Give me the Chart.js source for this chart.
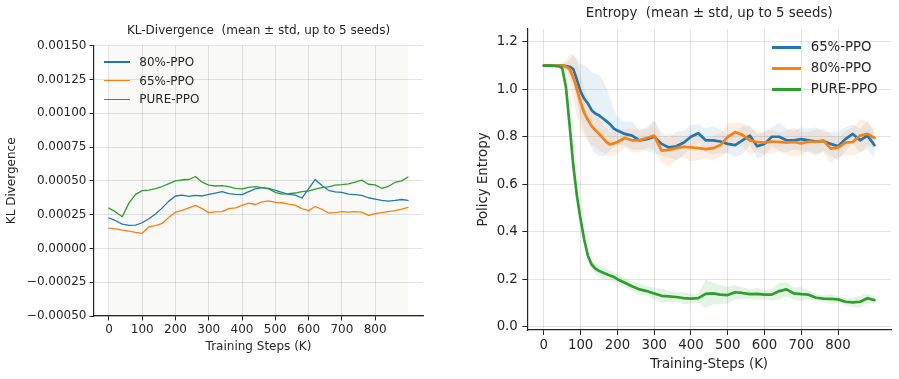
<!DOCTYPE html>
<html><head><meta charset="utf-8">
<script src="https://cdn.jsdelivr.net/npm/chart.js@4.4.1/dist/chart.umd.min.js"></script>
<style>
html,body{margin:0;padding:0;background:#fff;}
body{width:899px;height:379px;overflow:hidden;position:relative;font-family:'DejaVu Sans',sans-serif;color:#262626;}
canvas{position:absolute;top:0;}
.li{position:absolute;white-space:nowrap;}
.li span.ln{position:absolute;left:0;}
.li span.tx{position:absolute;}
</style></head><body>
<canvas id="c1" width="450" height="379" style="left:0px"></canvas>
<canvas id="c2" width="449" height="379" style="left:450px"></canvas>
<div id="legends"></div>
<script>
// ---------- KL divergence (left) ----------
const klSteps = [0,20,40,60,80,100,120,140,160,180,200,220,240,260,280,300,320,340,360,380,400,420,440,460,480,500,520,540,560,580,600,620,640,660,680,700,720,740,760,780,800,820,840,860,880,899];
const kl80 = [0.000225,0.000205,0.000180,0.000170,0.000172,0.000190,0.000220,0.000255,0.000300,0.000350,
  0.000388,0.000395,0.000385,0.000392,0.000388,0.000400,0.000410,0.000420,0.000405,0.000400,
  0.000398,0.000420,0.000440,0.000450,0.000445,0.000430,0.000415,0.000400,0.000395,0.000373,
  0.000440,0.000510,0.000465,0.000430,0.000418,0.000415,0.000402,0.000398,0.000392,0.000375,
  0.000365,0.000355,0.000350,0.000355,0.000362,0.000355];
const kl65 = [0.000150,0.000145,0.000135,0.000128,0.000118,0.000112,0.000160,0.000168,0.000185,0.000230,
  0.000268,0.000282,0.000300,0.000318,0.000295,0.000265,0.000270,0.000272,0.000295,0.000300,
  0.000318,0.000335,0.000325,0.000345,0.000352,0.000340,0.000338,0.000328,0.000320,0.000295,
  0.000280,0.000310,0.000290,0.000262,0.000265,0.000272,0.000268,0.000272,0.000268,0.000245,
  0.000258,0.000265,0.000272,0.000280,0.000290,0.000303];
const klPure = [0.000298,0.000270,0.000235,0.000335,0.000400,0.000428,0.000432,0.000442,0.000458,0.000480,
  0.000500,0.000508,0.000510,0.000532,0.000490,0.000468,0.000462,0.000465,0.000458,0.000445,
  0.000440,0.000452,0.000458,0.000450,0.000440,0.000415,0.000402,0.000405,0.000410,0.000420,
  0.000425,0.000438,0.000450,0.000455,0.000468,0.000472,0.000478,0.000490,0.000505,0.000475,
  0.000470,0.000445,0.000460,0.000488,0.000500,0.000528];
const klStd80 = [0.0017,0.0019,0.0016,0.0018,0.0020,0.0017,0.0019,0.0018,0.0016,0.0020,
  0.0018,0.0017,0.0019,0.0016,0.0018,0.0020,0.0017,0.0019,0.0018,0.0016,
  0.0019,0.0017,0.0018,0.0020,0.0016,0.0018,0.0019,0.0017,0.0018,0.0016,
  0.0020,0.0017,0.0019,0.0018,0.0016,0.0018,0.0020,0.0017,0.0019,0.0018,
  0.0016,0.0019,0.0017,0.0018,0.0020,0.0017];
const klStd65 = [0.0018,0.0016,0.0019,0.0017,0.0018,0.0020,0.0016,0.0018,0.0019,0.0017,
  0.0016,0.0019,0.0018,0.0020,0.0017,0.0016,0.0019,0.0018,0.0017,0.0020,
  0.0018,0.0016,0.0019,0.0017,0.0018,0.0020,0.0016,0.0018,0.0017,0.0019,
  0.0018,0.0016,0.0020,0.0017,0.0019,0.0016,0.0018,0.0019,0.0017,0.0020,
  0.0018,0.0016,0.0019,0.0017,0.0018,0.0019];
const klStdPure = [0.0019,0.0017,0.0018,0.0020,0.0016,0.0018,0.0017,0.0019,0.0018,0.0016,
  0.0020,0.0018,0.0017,0.0019,0.0016,0.0018,0.0020,0.0017,0.0019,0.0018,
  0.0016,0.0019,0.0017,0.0018,0.0020,0.0016,0.0018,0.0019,0.0017,0.0018,
  0.0019,0.0020,0.0016,0.0018,0.0017,0.0019,0.0018,0.0016,0.0020,0.0017,
  0.0019,0.0018,0.0016,0.0019,0.0017,0.0018];
const klXTicks = [0,100,200,300,400,500,600,700,800];
const klYTicks = [-0.0005,-0.00025,0,0.00025,0.0005,0.00075,0.001,0.00125,0.0015];

// ---------- Entropy (right) ----------
const entSteps = [0,10,20,30,40,50,60,70,80,90,100,110,120,130,140,150,160,170,180,190,200,
  220,240,260,280,300,320,340,360,380,400,420,440,460,480,500,520,540,560,580,600,620,640,660,680,700,720,740,760,780,800,820,840,860,880,899];
const ent65 = [1.100,1.100,1.100,1.100,1.100,1.100,1.098,1.095,1.085,1.040,0.990,0.960,0.940,0.912,0.898,0.890,0.878,0.866,0.853,0.835,0.826,
  0.812,0.805,0.785,0.790,0.800,0.770,0.755,0.760,0.775,0.800,0.815,0.785,0.785,0.780,0.770,0.765,0.785,0.805,0.760,0.770,0.800,0.800,0.785,0.785,0.790,0.785,0.780,0.782,0.770,0.760,0.790,0.812,0.785,0.805,
  0.765];
const ent80 = [1.100,1.100,1.100,1.100,1.100,1.100,1.095,1.085,1.050,1.000,0.945,0.900,0.870,0.845,0.828,0.812,0.795,0.778,0.768,0.772,0.778,
  0.795,0.785,0.785,0.795,0.805,0.742,0.745,0.752,0.758,0.755,0.752,0.748,0.752,0.765,0.800,0.820,0.808,0.785,0.778,0.775,0.780,0.778,0.775,0.778,0.772,0.780,0.778,0.785,0.750,0.755,0.775,0.778,0.805,0.812,
  0.795];
const entPure = [1.100,1.100,1.100,1.098,1.097,1.090,1.010,0.850,0.680,0.550,0.450,0.365,0.298,0.262,0.245,0.235,0.228,0.222,0.215,0.210,0.200,
  0.185,0.170,0.157,0.150,0.140,0.130,0.128,0.125,0.120,0.118,0.120,0.138,0.140,0.135,0.133,0.145,0.142,0.137,0.138,0.135,0.135,0.150,0.157,0.140,0.137,0.135,0.122,0.118,0.117,0.115,0.105,0.102,0.105,0.120,
  0.112];
const entStd65 = [0.002,0.002,0.002,0.003,0.004,0.006,0.015,0.03,0.06,0.09,0.12,0.14,0.15,0.16,0.17,0.17,0.16,0.14,0.11,0.08,0.06,
  0.05,0.06,0.04,0.05,0.07,0.05,0.04,0.06,0.05,0.05,0.04,0.05,0.06,0.05,0.04,0.05,0.06,0.04,0.05,0.05,0.04,0.06,0.05,0.04,0.05,0.05,0.06,0.04,0.05,0.06,0.05,0.04,0.05,0.06,
  0.05];
const entStd80 = [0.002,0.002,0.003,0.004,0.006,0.01,0.03,0.06,0.10,0.12,0.12,0.10,0.09,0.08,0.07,0.07,0.06,0.06,0.05,0.05,0.05,
  0.04,0.05,0.05,0.04,0.06,0.05,0.07,0.05,0.04,0.06,0.05,0.04,0.05,0.05,0.06,0.04,0.05,0.06,0.04,0.05,0.05,0.04,0.05,0.06,0.05,0.04,0.05,0.05,0.06,0.04,0.05,0.06,0.07,0.05,
  0.04];
const entStdPure = [0.002,0.002,0.002,0.003,0.004,0.006,0.01,0.015,0.015,0.015,0.015,0.012,0.012,0.015,0.02,0.025,0.03,0.025,0.02,0.02,0.02,
  0.02,0.02,0.025,0.02,0.025,0.03,0.025,0.02,0.025,0.02,0.02,0.06,0.045,0.04,0.035,0.03,0.025,0.02,0.025,0.02,0.025,0.035,0.03,0.025,0.03,0.02,0.015,0.015,0.02,0.015,0.015,0.02,0.025,0.02,
  0.015];
const entXTicks = [0,100,200,300,400,500,600,700,800];
const entYTicks = [0,0.2,0.4,0.6,0.8,1.0,1.2];

const BLUE = '#1f77b4', ORANGE = '#ff7f0e', GREEN = '#2ca02c';
const TXT = '#262626', GRID = 'rgba(0,0,0,0.11)';

Chart.defaults.font.family = "'DejaVu Sans', sans-serif";
Chart.defaults.color = TXT;

// title centred over the plot area (like matplotlib's axes title)
const axesTitle = {
  id: 'axesTitle',
  afterDraw(chart, args, opts) {
    const {ctx, chartArea} = chart;
    ctx.save();
    ctx.font = 'normal ' + opts.size + "px 'DejaVu Sans', sans-serif";
    ctx.fillStyle = TXT;
    ctx.textAlign = 'center';
    ctx.textBaseline = 'middle';
    ctx.fillText(opts.text, (chartArea.left + chartArea.right) / 2, opts.y);
    ctx.restore();
  }
};

function pts(xs, ys) { return xs.map((x, i) => ({x: x, y: ys[i]})); }
function shifted(xs, m, s, sign) { return xs.map((x, i) => ({x: x, y: m[i] + sign * s[i]})); }
function lineDs(label, xs, ys, color, w) {
  return {label: label, data: pts(xs, ys), borderColor: color, borderWidth: w, pointRadius: 0,
          fill: false, tension: 0, borderJoinStyle: 'round', borderCapStyle: 'round'};
}
function bandDs(xs, m, s, col) {
  return [
    {data: shifted(xs, m, s, 1), borderWidth: 0, borderColor: 'transparent', pointRadius: 0, backgroundColor: col, fill: '+1', tension: 0},
    {data: shifted(xs, m, s, -1), borderWidth: 0, borderColor: 'transparent', pointRadius: 0, fill: false, tension: 0}
  ];
}
function makeOpts(o) {
  return {
    responsive: false, animation: false, devicePixelRatio: 1,
    layout: {padding: {left: 0, right: o.padR, top: o.padT, bottom: 0}},
    plugins: {
      legend: {display: false}, tooltip: {enabled: false}, title: {display: false},
      axesTitle: {text: o.title, size: o.fs, y: o.titleY}
    },
    scales: {
      x: {type: 'linear', min: o.xmin, max: o.xmax,
          afterBuildTicks: s => { s.ticks = o.xticks.map(v => ({value: v})); },
          afterFit: s => { s.height = o.xh; },
          grid: {color: GRID, lineWidth: 1, drawTicks: true, tickColor: TXT, tickLength: o.tl, tickWidth: 1},
          border: {display: true, color: TXT, width: 1.2},
          ticks: {font: {size: o.fs}, color: TXT, padding: o.xpad, maxRotation: 0, autoSkip: false, callback: v => String(v)},
          title: {display: true, text: o.xlabel, color: TXT, font: {size: o.fs}, padding: {top: 0, bottom: o.xtb}}
      },
      y: {type: 'linear', min: o.ymin, max: o.ymax,
          afterBuildTicks: s => { s.ticks = o.yticks.map(v => ({value: v})); },
          afterFit: s => { s.width = o.yw; },
          grid: {color: GRID, lineWidth: 1, drawTicks: true, tickColor: TXT, tickLength: o.tl, tickWidth: 1},
          border: {display: true, color: TXT, width: 1.2},
          ticks: {font: {size: o.fs}, color: TXT, padding: o.ypad, autoSkip: false, callback: o.yfmt},
          title: {display: true, text: o.ylabel, color: TXT, font: {size: o.fs}, padding: {top: o.ytt, bottom: 0}}
      }
    }
  };
}

const klFmt = v => (v < 0 ? '\u2212' : '') + Math.abs(v).toFixed(5);
new Chart(document.getElementById('c1'), {
  type: 'line',
  plugins: [axesTitle],
  data: {datasets: [
    lineDs('PURE-PPO', klSteps, klPure, GREEN, 1.3),
    lineDs('65%-PPO', klSteps, kl65, ORANGE, 1.3),
    lineDs('80%-PPO', klSteps, kl80, BLUE, 1.3),
    ...bandDs(klSteps, klPure, klStdPure, 'rgba(44,160,44,0.015)'),
    ...bandDs(klSteps, kl65, klStd65, 'rgba(255,127,14,0.015)'),
    ...bandDs(klSteps, kl80, klStd80, 'rgba(31,119,180,0.015)')
  ]},
  options: makeOpts({padR: 27, padT: 45.7, title: 'KL-Divergence  (mean \u00b1 std, up to 5 seeds)', fs: 12, titleY: 31,
    xmin: -45, xmax: 944, xticks: klXTicks, xh: 63, tl: 4.5, xpad: 2.5, xlabel: 'Training Steps (K)', xtb: 24.8,
    ymin: -0.0005, ymax: 0.0015, yticks: klYTicks, yw: 94, ypad: 3, yfmt: klFmt, ylabel: 'KL Divergence', ytt: 4.8})
});

const entFmt = v => v.toFixed(1);
new Chart(document.getElementById('c2'), {
  type: 'line',
  plugins: [axesTitle],
  data: {datasets: [
    lineDs('PURE-PPO', entSteps, entPure, GREEN, 2.7),
    lineDs('80%-PPO', entSteps, ent80, ORANGE, 2.7),
    lineDs('65%-PPO', entSteps, ent65, BLUE, 2.7),
    ...bandDs(entSteps, entPure, entStdPure, 'rgba(44,160,44,0.12)'),
    ...bandDs(entSteps, ent80, entStd80, 'rgba(255,127,14,0.12)'),
    ...bandDs(entSteps, ent65, entStd65, 'rgba(31,119,180,0.10)')
  ]},
  options: makeOpts({padR: 8, padT: 29, title: 'Entropy  (mean \u00b1 std, up to 5 seeds)', fs: 13.3, titleY: 14,
    xmin: -45, xmax: 944, xticks: entXTicks, xh: 49, tl: 5, xpad: 3, xlabel: 'Training-Steps (K)', xtb: 6.5,
    ymin: -0.014, ymax: 1.254, yticks: entYTicks, yw: 77.3, ypad: 4.5, yfmt: entFmt, ylabel: 'Policy Entropy', ytt: 26})
});

// ---------- legends (HTML text) ----------
const klLegend = [['80%-PPO', BLUE], ['65%-PPO', ORANGE], ['PURE-PPO', GREEN]];
const entLegend = [['65%-PPO', BLUE], ['80%-PPO', ORANGE], ['PURE-PPO', GREEN]];
function buildLegend(items, x0, lineLen, textX, y0, dy, lw, fs) {
  const host = document.getElementById('legends');
  items.forEach((it, i) => {
    const cy = y0 + i * dy;
    const d = document.createElement('div');
    d.className = 'li';
    d.style.left = x0 + 'px';
    d.style.top = (cy - fs * 0.6) + 'px';
    d.style.height = (fs * 1.2) + 'px';
    const ln = document.createElement('span');
    ln.className = 'ln';
    ln.style.width = lineLen + 'px';
    ln.style.top = (fs * 0.6 - lw / 2) + 'px';
    ln.style.height = lw + 'px';
    ln.style.background = it[1];
    const tx = document.createElement('span');
    tx.className = 'tx';
    tx.style.left = (textX - x0) + 'px';
    tx.style.top = '0px';
    tx.style.fontSize = fs + 'px';
    tx.style.lineHeight = (fs * 1.2) + 'px';
    tx.textContent = it[0];
    d.appendChild(ln); d.appendChild(tx);
    host.appendChild(d);
  });
}
buildLegend(klLegend, 104.3, 25.7, 139.3, 62, 18.7, 1.5, 12);
buildLegend(entLegend, 771.7, 29, 810.7, 47.3, 21, 3, 13.3);
</script>
</body></html>
